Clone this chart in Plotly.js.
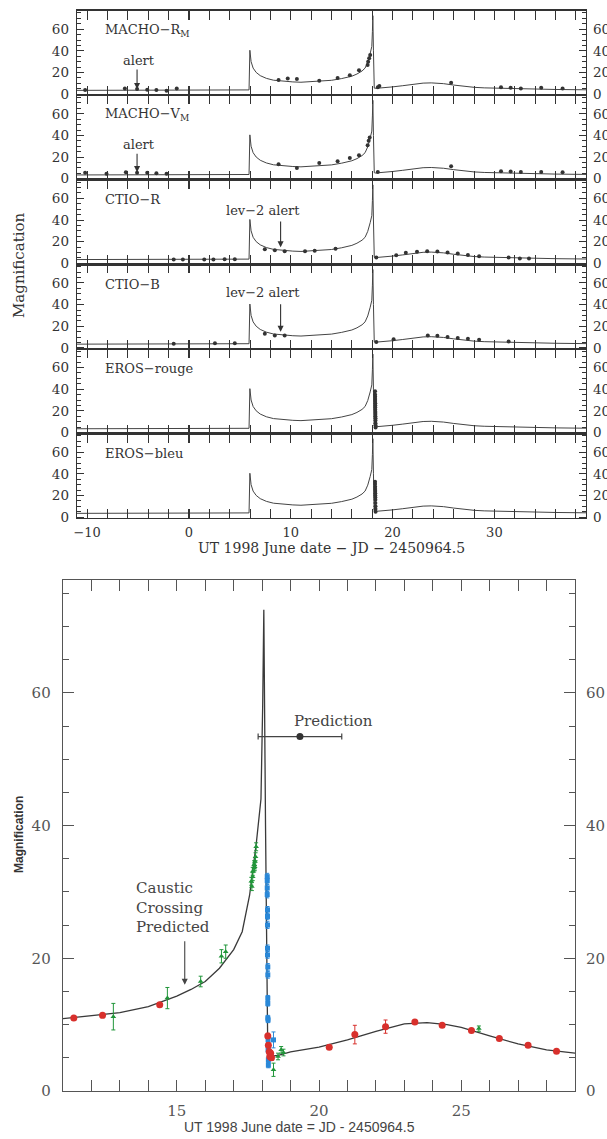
<!DOCTYPE html>
<html><head><meta charset="utf-8">
<script src="https://cdn.plot.ly/plotly-3.0.1.min.js"></script>
<style>html,body{margin:0;padding:0;background:#fff}#chart{width:607px;height:1139px}</style>
</head><body><div id="chart"></div>
<script>
// ---------- model light curve (shared) ----------
const modelX = [-11, -8, -5, -2, 1, 4, 5.9, 5.98, 6.1, 6.3, 6.6, 7.0, 7.6, 8.3, 9.2, 10.2, 11, 12, 13, 14, 15, 15.5, 16, 16.5, 17, 17.3, 17.56, 17.8, 17.96, 18.02, 18.06, 18.12, 18.2, 18.3, 18.6, 19, 20, 21, 22, 23, 23.8, 24.5, 25, 26, 27, 28, 29, 30, 31, 32, 34, 36, 39];
const modelY = [3.4, 3.4, 3.5, 3.5, 3.6, 3.7, 3.8, 40.5, 30, 24, 20, 17, 14.5, 12.8, 11.8, 11.2, 10.9, 11.3, 11.8, 12.7, 14.3, 15.3, 16.5, 18.5, 21.3, 24, 29.5, 37.5, 44, 58, 72.5, 40, 5.5, 5.2, 5.4, 5.9, 6.6, 7.7, 9.0, 10.1, 10.3, 10.0, 9.6, 8.3, 7.1, 6.2, 5.7, 5.4, 5.1, 4.9, 4.5, 4.2, 3.9];

// ---------- top panels ----------
const panelNames = ['MACHO−R<sub>M</sub>', 'MACHO−V<sub>M</sub>', 'CTIO−R', 'CTIO−B', 'EROS−rouge', 'EROS−bleu'];
const topTickVals = [-10, 0, 10, 20, 30];
const magTickVals = [0, 20, 40, 60];

const machoRX = [-10.2, -6.3, -5.1, -4.1, -3.2, -2.2, -1.2, 8.8, 9.7, 10.6, 12.8, 14.6, 15.8, 16.7, 17.55, 17.6, 17.7, 17.8, 18.55, 18.7, 25.75, 30.65, 31.6, 32.6, 34.6, 36.7];
const machoRY = [3.7, 5.2, 4.7, 4.0, 3.7, 3.0, 5.2, 13, 14.3, 14, 12.3, 14.8, 17.3, 21.9, 26.8, 29.9, 33, 36, 6.2, 7.4, 10.5, 6.2, 5.8, 5.2, 5.8, 5.2];

const machoVX = [-10.2, -8.1, -6.2, -5.1, -4.1, -3.2, -2.2, 8.8, 10.6, 12.8, 14.6, 15.8, 16.7, 17.55, 17.65, 17.75, 18.55, 25.75, 30.65, 31.6, 32.6, 34.6, 36.7];
const machoVY = [5.5, 4.6, 6.0, 5.5, 5.5, 5.0, 4.5, 13.2, 9.9, 14.5, 16.0, 19.1, 21.6, 30.9, 35, 38, 6.2, 11.4, 6.8, 6.5, 6.2, 6.2, 5.8];

const ctioRX = [-1.5, -0.6, 1.5, 2.4, 3.5, 4.5, 7.45, 8.43, 9.4, 11.4, 12.35, 14.4, 18.4, 20.36, 21.3, 22.4, 23.4, 24.4, 25.4, 26.4, 27.4, 28.5, 31.4, 32.5, 33.4];
const ctioRY = [3.4, 3.4, 3.4, 3.4, 3.6, 3.6, 13, 12, 11, 11.1, 11.5, 13.3, 5.3, 7.4, 9.6, 10.5, 11.1, 10.8, 9.9, 9.0, 7.7, 6.5, 5.3, 4.3, 4.3];

const ctioBX = [-1.5, 2.55, 4.5, 7.45, 8.43, 9.4, 18.4, 20.1, 23.46, 24.4, 25.4, 26.4, 27.4, 28.5, 31.4];
const ctioBY = [3.7, 4.3, 4.3, 13, 11.4, 11.4, 5.5, 8.0, 11.4, 11.1, 9.9, 9.0, 8.3, 7.4, 5.9];

const erosRX = [18.28, 18.28, 18.29, 18.29, 18.29, 18.3, 18.3, 18.3, 18.3, 18.31, 18.31, 18.31, 18.32, 18.32, 18.32, 18.33, 18.33];
const erosRY = [38, 35, 33, 31, 29, 27, 25, 23, 21, 19, 17, 15, 13, 11, 8.5, 6.5, 4.6];

const erosBX = [18.28, 18.28, 18.29, 18.29, 18.3, 18.3, 18.3, 18.31, 18.31, 18.31, 18.32, 18.32, 18.33];
const erosBY = [32.7, 30.5, 28, 26, 24, 22, 20, 18, 16, 13, 10, 7.5, 4.9];

const panelX = [machoRX, machoVX, ctioRX, ctioBX, erosRX, erosBX];
const panelY = [machoRY, machoVY, ctioRY, ctioBY, erosRY, erosBY];

// ---------- bottom (zoomed) panel ----------
const bottomTickVals = [15, 20, 25];
const redX = [11.38, 12.39, 14.4, 18.2, 18.22, 18.25, 18.27, 18.3, 18.33, 20.36, 21.26, 22.34, 23.37, 24.33, 25.36, 26.34, 27.35, 28.35];
const redY = [11.0, 11.4, 13.0, 8.3, 6.9, 5.9, 5.2, 5.7, 5.0, 6.6, 8.5, 9.7, 10.4, 9.9, 9.1, 7.9, 6.9, 6.0];
const redErr = [0.2, 0.2, 0.2, 0.4, 0.4, 0.4, 0.4, 0.4, 0.4, 0.2, 1.4, 1.0, 0.3, 0.2, 0.2, 0.2, 0.2, 0.2];

const greenX = [12.77, 14.67, 15.84, 16.57, 16.72, 17.62, 17.64, 17.67, 17.67, 17.72, 17.72, 17.74, 17.75, 17.77, 17.79, 18.4, 18.56, 18.67, 18.75, 25.62];
const greenY = [11.2, 14.0, 16.5, 20.3, 21.0, 31.6, 30.8, 32.3, 33.1, 33.6, 34.1, 33.8, 34.6, 35.3, 36.8, 3.2, 5.2, 6.2, 5.8, 9.4];
const greenErr = [2.0, 1.6, 0.8, 1.0, 1.0, 0.6, 0.6, 0.6, 0.6, 0.6, 0.6, 0.6, 0.6, 0.6, 0.6, 1.0, 0.5, 0.5, 0.5, 0.4];

const blueX = [18.18, 18.18, 18.18, 18.18, 18.19, 18.19, 18.19, 18.19, 18.19, 18.2, 18.2, 18.2, 18.2, 18.2, 18.21, 18.21, 18.21, 18.22, 18.22, 18.4];
const blueY = [32.3, 31.7, 30.6, 29.6, 27.3, 26.3, 25.0, 21.5, 20.5, 18.7, 17.5, 14.0, 13.2, 11.0, 10.7, 7.7, 6.2, 4.7, 3.9, 7.7];
const blueErr = [0.5, 0.5, 0.5, 0.5, 0.5, 0.5, 0.5, 0.5, 0.5, 0.5, 0.5, 0.4, 0.4, 0.4, 0.4, 0.4, 0.4, 0.4, 0.4, 1.2];

const predX = [19.33], predY = [53.4], predErrX = [1.47];

// ---------- geometry helpers ----------
const W = 607, H = 1139;
const fy = px => 1 - px / H;
const fx = px => px / W;
const SERIF = 'DejaVu Serif, serif';
const SANS = 'Liberation Sans, Arial, sans-serif';
const INK = '#333';
const INK2 = '#555';
const TOP_RANGE = [-1, 77.3];

const layout = {
  width: W, height: H, margin: {l: 0, r: 0, t: 0, b: 0},
  paper_bgcolor: '#fff', plot_bgcolor: 'rgba(0,0,0,0)', showlegend: false,
  annotations: [], shapes: []
};
const traces = [];
const id = n => (n === 1 ? '' : String(n));

for (let k = 0; k < 6; k++) {
  const n = k + 1;
  const top = 10.5 + 84.6 * k, bot = 95.1 + 84.6 * k;
  layout['xaxis' + id(n)] = {
    domain: [fx(77), fx(586)], anchor: 'y' + id(n), range: [-11, 39],
    tickmode: 'array', tickvals: topTickVals, ticks: 'inside', ticklen: 9, tickwidth: 1.2, tickcolor: INK,
    minor: {dtick: 2, tick0: 0, ticks: 'inside', ticklen: 5, tickcolor: INK, tickwidth: 1},
    showline: true, linecolor: INK, linewidth: 1.3, mirror: 'allticks',
    showgrid: false, zeroline: false, showticklabels: n === 6,
    tickfont: {family: SERIF, size: 13, color: INK}, ticklabelstandoff: 2
  };
  layout['yaxis' + id(n)] = {
    domain: [fy(bot), fy(top)], anchor: 'x' + id(n), range: TOP_RANGE,
    tickmode: 'array', tickvals: magTickVals, ticks: 'inside', ticklen: 7, tickcolor: INK,
    minor: {dtick: 5, tick0: 0, ticks: 'inside', ticklen: 4, tickcolor: INK},
    showline: true, linecolor: INK, linewidth: 1.3, mirror: 'allticks',
    showgrid: false, zeroline: false,
    tickfont: {family: SERIF, size: 13.5, color: INK}, ticklabelstandoff: 4
  };
  layout['yaxis' + (n + 7)] = {
    overlaying: 'y' + id(n), side: 'right', anchor: 'x' + id(n), range: TOP_RANGE,
    tickmode: 'array', tickvals: magTickVals, ticks: '', showline: false, showgrid: false, zeroline: false,
    tickfont: {family: SERIF, size: 13.5, color: INK}, ticklabelstandoff: 6
  };
  traces.push({x: modelX, y: modelY, xaxis: 'x' + id(n), yaxis: 'y' + (n + 7), mode: 'lines',
    line: {width: 0}, opacity: 0, hoverinfo: 'skip'});
  traces.push({x: modelX, y: modelY, xaxis: 'x' + id(n), yaxis: 'y' + id(n), mode: 'lines',
    line: {color: '#444', width: 1}, hoverinfo: 'skip'});
  traces.push({x: panelX[k], y: panelY[k], xaxis: 'x' + id(n), yaxis: 'y' + id(n), mode: 'markers',
    marker: {color: '#333', size: 4}, hoverinfo: 'skip'});
  layout.annotations.push({xref: 'x' + id(n), yref: 'y' + id(n), x: -8.4, y: 59, xanchor: 'left', yanchor: 'middle',
    text: panelNames[k], showarrow: false, font: {family: SERIF, size: 13, color: INK}});
}

// alert arrows
const arrowAnn = (n, x, yTip, yTail) => ({xref: 'x' + id(n), yref: 'y' + id(n), axref: 'x' + id(n), ayref: 'y' + id(n),
  x: x, y: yTip, ax: x, ay: yTail, text: '', showarrow: true, arrowhead: 2, arrowsize: 1.1, arrowwidth: 1.1, arrowcolor: INK});
layout.annotations.push({xref: 'x', yref: 'y', x: -4.9, y: 31, text: 'alert', showarrow: false, font: {family: SERIF, size: 13, color: INK}});
layout.annotations.push(arrowAnn(1, -5.1, 4.6, 24));
layout.annotations.push({xref: 'x2', yref: 'y2', x: -4.9, y: 32, text: 'alert', showarrow: false, font: {family: SERIF, size: 13, color: INK}});
layout.annotations.push(arrowAnn(2, -5.1, 6, 24.5));
layout.annotations.push({xref: 'x3', yref: 'y3', x: 7.25, y: 49, text: 'lev−2 alert', showarrow: false, font: {family: SERIF, size: 13, color: INK}});
layout.annotations.push(arrowAnn(3, 9.0, 14.8, 40));
layout.annotations.push({xref: 'x4', yref: 'y4', x: 7.25, y: 51, text: 'lev−2 alert', showarrow: false, font: {family: SERIF, size: 13, color: INK}});
layout.annotations.push(arrowAnn(4, 9.0, 14.8, 41.7));

// top titles
layout.annotations.push({xref: 'paper', yref: 'paper', x: fx(331), y: fy(548), xanchor: 'center', yanchor: 'middle',
  text: 'UT 1998 June date − JD − 2450964.5', showarrow: false, font: {family: SERIF, size: 14, color: INK}});
layout.annotations.push({xref: 'paper', yref: 'paper', x: fx(19), y: fy(265), xanchor: 'center', yanchor: 'middle', textangle: -90,
  text: 'Magnification', showarrow: false, font: {family: SERIF, size: 15, color: INK}});

// ---------- bottom panel axes ----------
layout.xaxis7 = {
  domain: [fx(63), fx(575)], anchor: 'y7', range: [11, 29],
  tickmode: 'array', tickvals: bottomTickVals, ticks: 'inside', ticklen: 11, tickcolor: INK2, tickwidth: 1,
  minor: {dtick: 1, tick0: 0, ticks: 'inside', ticklen: 6, tickcolor: INK2},
  showline: true, linecolor: INK2, linewidth: 1.3, mirror: 'allticks', showgrid: false, zeroline: false,
  tickfont: {family: SERIF, size: 15, color: '#555'}, ticklabelstandoff: 6
};
layout.yaxis7 = {
  domain: [fy(1091), fy(580)], anchor: 'x7', range: [0, 77],
  tickmode: 'array', tickvals: magTickVals, ticks: 'inside', ticklen: 11, tickcolor: INK2,
  minor: {dtick: 5, tick0: 0, ticks: 'inside', ticklen: 6, tickcolor: INK2},
  showline: true, linecolor: INK2, linewidth: 1.3, mirror: 'allticks', showgrid: false, zeroline: false,
  tickfont: {family: SERIF, size: 15, color: '#555'}, ticklabelstandoff: 8
};
layout.yaxis14 = {
  overlaying: 'y7', side: 'right', anchor: 'x7', range: [0, 77],
  tickmode: 'array', tickvals: magTickVals, ticks: '', showline: false, showgrid: false, zeroline: false,
  tickfont: {family: SERIF, size: 15, color: '#555'}, ticklabelstandoff: 10
};
traces.push({x: modelX, y: modelY, xaxis: 'x7', yaxis: 'y14', mode: 'lines', line: {width: 0}, opacity: 0, hoverinfo: 'skip'});
traces.push({x: modelX, y: modelY, xaxis: 'x7', yaxis: 'y7', mode: 'lines', line: {color: '#3a3a3a', width: 1.3}, hoverinfo: 'skip'});
traces.push({x: blueX, y: blueY, xaxis: 'x7', yaxis: 'y7', mode: 'markers',
  marker: {symbol: 'square', color: '#2a88d8', size: 5},
  error_y: {type: 'data', array: blueErr, color: '#2a88d8', thickness: 1, width: 2}, hoverinfo: 'skip'});
traces.push({x: greenX, y: greenY, xaxis: 'x7', yaxis: 'y7', mode: 'markers',
  marker: {symbol: 'triangle-up', color: '#21963a', size: 5},
  error_y: {type: 'data', array: greenErr, color: '#21963a', thickness: 1, width: 2}, hoverinfo: 'skip'});
traces.push({x: redX, y: redY, xaxis: 'x7', yaxis: 'y7', mode: 'markers',
  marker: {symbol: 'circle', color: '#d8302c', size: 7},
  error_y: {type: 'data', array: redErr, color: '#d8302c', thickness: 1, width: 2}, hoverinfo: 'skip'});
traces.push({x: predX, y: predY, xaxis: 'x7', yaxis: 'y7', mode: 'markers',
  marker: {symbol: 'circle', color: '#333', size: 7},
  error_x: {type: 'data', array: predErrX, color: '#444', thickness: 1.2, width: 3}, hoverinfo: 'skip'});

layout.annotations.push({xref: 'x7', yref: 'y7', x: 19.04, y: 55.7, xanchor: 'left', yanchor: 'middle',
  text: 'Prediction', showarrow: false, font: {family: SERIF, size: 15, color: '#444'}});
layout.annotations.push({xref: 'x7', yref: 'y7', x: 13.5, y: 27.7, xanchor: 'left', yanchor: 'middle', align: 'left',
  text: 'Caustic<br>Crossing<br>Predicted', showarrow: false, font: {family: SERIF, size: 15, color: '#444'}});
layout.annotations.push({xref: 'x7', yref: 'y7', axref: 'x7', ayref: 'y7', x: 15.28, y: 16.0, ax: 15.28, ay: 22.8,
  text: '', showarrow: true, arrowhead: 2, arrowsize: 1.1, arrowwidth: 1.1, arrowcolor: '#444'});

layout.annotations.push({xref: 'paper', yref: 'paper', x: fx(299), y: fy(1127), xanchor: 'center', yanchor: 'middle',
  text: 'UT 1998 June date = JD - 2450964.5', showarrow: false, font: {family: SANS, size: 14, color: '#444'}});
layout.annotations.push({xref: 'paper', yref: 'paper', x: fx(19), y: fy(835), xanchor: 'center', yanchor: 'middle', textangle: -90,
  text: '<b>Magnification</b>', showarrow: false, font: {family: SANS, size: 12, color: '#333'}});

Plotly.newPlot('chart', traces, layout, {staticPlot: true, displayModeBar: false});
</script></body></html>
